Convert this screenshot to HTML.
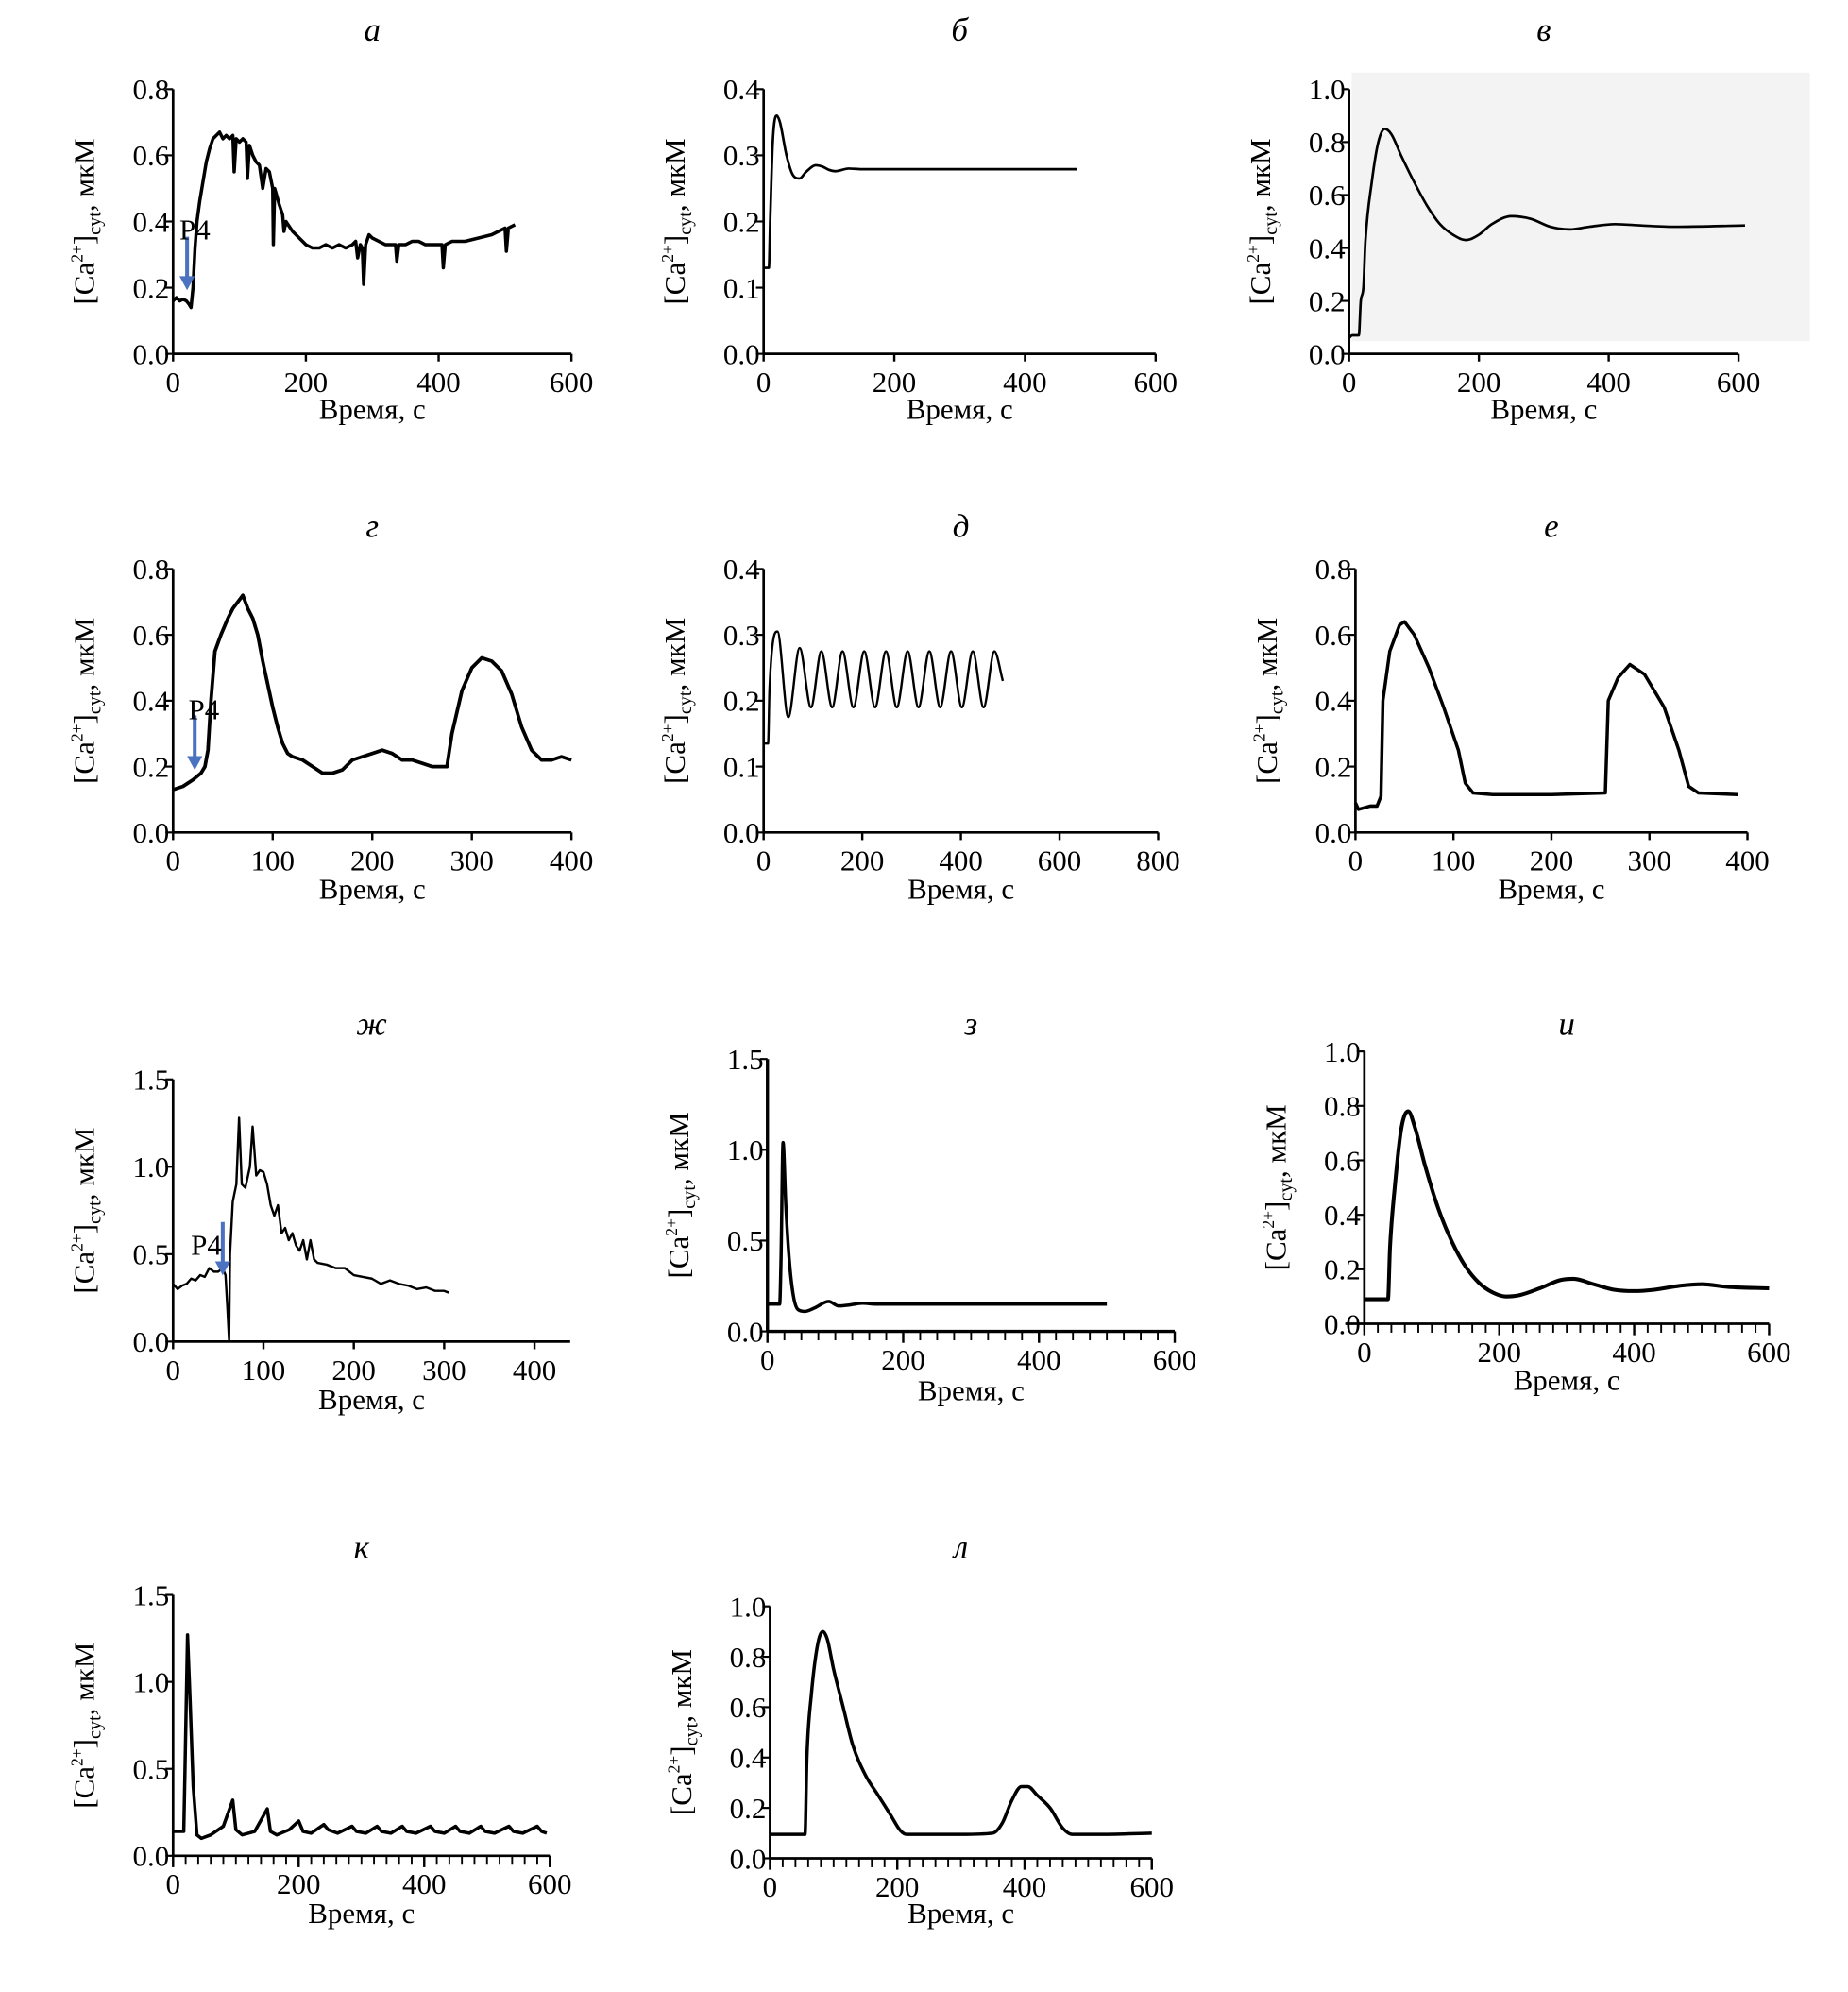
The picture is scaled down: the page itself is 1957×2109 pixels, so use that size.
<!DOCTYPE html>
<html><head><meta charset="utf-8"><style>
html,body{margin:0;padding:0;background:#fff;}
svg{display:block;}
text{font-family:"Liberation Serif",serif;fill:#000;}
</style></head><body>
<svg id="fig" width="1957" height="2109" viewBox="0 0 1452 1565" preserveAspectRatio="none" xmlns="http://www.w3.org/2000/svg">
<rect x="1062" y="57" width="360" height="211" fill="#f3f3f3"/>
</svg>
<script>
// ---- data (time s, [Ca2+] µM) ----
const aT=[0,5,10,15,20,24,27,30,33,36,40,45,50,55,60,65,70,75,80,85,90,92,95,100,105,110,112,115,120,125,130,135,140,145,150,151,153,160,165,167,170,180,190,200,210,220,230,240,250,260,270,275,278,282,285,287,290,295,300,310,320,330,335,337,340,350,360,370,380,390,400,405,407,410,420,440,460,480,490,500,502,505,515];
const aV=[0.16,0.17,0.16,0.165,0.16,0.15,0.14,0.2,0.32,0.4,0.46,0.52,0.58,0.62,0.65,0.66,0.67,0.65,0.66,0.65,0.66,0.55,0.65,0.64,0.65,0.64,0.53,0.63,0.6,0.58,0.57,0.5,0.56,0.55,0.5,0.33,0.5,0.45,0.42,0.37,0.4,0.37,0.35,0.33,0.32,0.32,0.33,0.32,0.33,0.32,0.33,0.34,0.29,0.33,0.32,0.21,0.33,0.36,0.35,0.34,0.33,0.33,0.33,0.28,0.33,0.33,0.34,0.34,0.33,0.33,0.33,0.33,0.26,0.33,0.34,0.34,0.35,0.36,0.37,0.38,0.31,0.38,0.39];
const bT=[0,8,10,14,20,25,35,45,55,65,80,90,100,110,130,150,480];
const bV=[0.13,0.13,0.2,0.32,0.36,0.35,0.3,0.27,0.265,0.275,0.285,0.283,0.278,0.276,0.28,0.279,0.279];
const vT=[0,5,15,18,22,25,35,45,55,65,80,100,120,140,160,180,200,220,250,280,310,340,370,410,450,500,610];
const vV=[0.06,0.07,0.07,0.2,0.25,0.42,0.65,0.8,0.85,0.83,0.75,0.65,0.56,0.49,0.45,0.43,0.45,0.49,0.52,0.51,0.48,0.47,0.48,0.49,0.485,0.48,0.485];
const gT=[0,10,20,28,32,35,38,42,48,55,60,65,70,75,80,85,90,95,100,105,110,115,120,130,140,150,160,170,180,190,200,210,220,230,240,250,260,270,275,280,290,300,310,320,330,340,350,360,370,380,390,400];
const gV=[0.13,0.14,0.16,0.18,0.2,0.25,0.4,0.55,0.6,0.65,0.68,0.7,0.72,0.68,0.65,0.6,0.52,0.45,0.38,0.32,0.27,0.24,0.23,0.22,0.2,0.18,0.18,0.19,0.22,0.23,0.24,0.25,0.24,0.22,0.22,0.21,0.2,0.2,0.2,0.3,0.43,0.5,0.53,0.52,0.49,0.42,0.32,0.25,0.22,0.22,0.23,0.22];
const dT=[0,9,12,28,50,73,96,117,139,160,182,204,226,248,270,292,314,336,358,380,402,424,446,468,485];
const dV=[0.135,0.135,0.22,0.305,0.175,0.28,0.19,0.275,0.19,0.275,0.19,0.275,0.19,0.275,0.19,0.275,0.19,0.275,0.19,0.275,0.19,0.275,0.19,0.275,0.23];
const eT=[0,3,15,22,26,28,35,45,50,60,75,90,105,112,120,140,200,255,258,268,280,295,315,330,340,350,390];
const eV=[0.09,0.07,0.08,0.08,0.11,0.4,0.55,0.63,0.64,0.6,0.5,0.38,0.25,0.15,0.12,0.115,0.115,0.12,0.4,0.47,0.51,0.48,0.38,0.25,0.14,0.12,0.115];
const zhT=[0,5,10,15,20,25,30,35,40,45,50,55,58,60,62,63,66,70,73,76,80,85,88,92,96,100,104,108,112,116,120,124,128,132,136,140,144,148,152,156,160,170,180,190,200,210,220,230,240,250,260,270,280,290,300,305];
const zhV=[0.33,0.3,0.32,0.33,0.36,0.35,0.38,0.37,0.42,0.4,0.4,0.42,0.38,0.2,0,0.5,0.8,0.9,1.28,0.9,0.88,1.0,1.23,0.95,0.98,0.97,0.9,0.78,0.72,0.78,0.62,0.65,0.58,0.62,0.55,0.52,0.58,0.47,0.58,0.47,0.45,0.44,0.42,0.42,0.38,0.37,0.36,0.33,0.35,0.33,0.32,0.3,0.31,0.29,0.29,0.28];
const zT=[0,18,20,23,27,32,38,45,55,70,90,105,120,140,160,500];
const zV=[0.15,0.15,0.4,1.04,0.7,0.4,0.2,0.12,0.11,0.13,0.165,0.14,0.145,0.155,0.15,0.15];
const iT=[0,35,38,45,55,65,75,90,110,130,150,170,190,210,230,260,290,310,340,370,400,430,470,500,540,600];
const iV=[0.09,0.09,0.28,0.5,0.72,0.78,0.72,0.58,0.42,0.3,0.21,0.15,0.115,0.1,0.105,0.13,0.16,0.165,0.145,0.125,0.12,0.125,0.14,0.145,0.135,0.13];
const kT=[0,17,19,23,27,32,38,45,60,80,95,100,110,130,150,155,165,185,200,207,220,240,247,262,285,292,307,325,332,347,365,372,387,410,417,432,450,457,472,490,497,512,535,542,557,580,587,595];
const kV=[0.14,0.14,0.5,1.27,0.9,0.4,0.12,0.1,0.12,0.17,0.32,0.15,0.12,0.14,0.27,0.14,0.12,0.15,0.2,0.14,0.13,0.18,0.15,0.13,0.17,0.14,0.13,0.17,0.14,0.13,0.17,0.14,0.13,0.17,0.14,0.13,0.17,0.14,0.13,0.17,0.14,0.13,0.17,0.14,0.13,0.17,0.14,0.13];
const lT=[0,55,58,65,75,83,90,100,115,130,150,170,190,205,215,300,350,365,380,395,405,420,440,460,475,520,600];
const lV=[0.095,0.095,0.4,0.65,0.85,0.9,0.87,0.75,0.6,0.45,0.33,0.25,0.17,0.11,0.095,0.095,0.1,0.14,0.23,0.285,0.285,0.25,0.2,0.12,0.095,0.095,0.1];
// tick labels
const ticksA=[0,200,400,600], yA=["0.0","0.2","0.4","0.6","0.8"];
const yB=["0.0","0.1","0.2","0.3","0.4"], yV=["0.0","0.2","0.4","0.6","0.8","1.0"];
const ticks4=[0,100,200,300,400], ticksD=[0,200,400,600,800], yZh=["0.0","0.5","1.0","1.5"];

const NS="http://www.w3.org/2000/svg", svg=document.getElementById('fig');
function mk(tag,at,parent){const e=document.createElementNS(NS,tag);for(const k in at)e.setAttribute(k,at[k]);(parent||svg).appendChild(e);return e;}

function monotone(px,py){
  const n=px.length;if(n<3){return 'M'+px.map((x,i)=>x+','+py[i]).join('L');}
  const d=[],m=[];for(let i=0;i<n-1;i++)d.push((py[i+1]-py[i])/(px[i+1]-px[i]||1e-6));
  m[0]=d[0];m[n-1]=d[n-2];
  for(let i=1;i<n-1;i++){m[i]=(d[i-1]*d[i]<=0)?0:(d[i-1]+d[i])/2;}
  for(let i=0;i<n-1;i++){if(d[i]===0){m[i]=0;m[i+1]=0;continue;}const a=m[i]/d[i],b=m[i+1]/d[i],s=a*a+b*b;if(s>9){const t=3/Math.sqrt(s);m[i]=t*a*d[i];m[i+1]=t*b*d[i];}}
  let p='M'+px[0].toFixed(2)+','+py[0].toFixed(2);
  for(let i=0;i<n-1;i++){const h=(px[i+1]-px[i])/3;p+='C'+(px[i]+h).toFixed(2)+','+(py[i]+m[i]*h).toFixed(2)+' '+(px[i+1]-h).toFixed(2)+','+(py[i+1]-m[i+1]*h).toFixed(2)+' '+px[i+1].toFixed(2)+','+py[i+1].toFixed(2);}
  return p;
}

const panels=[
 {id:'a',title:'а',x0:136,x1:449,xmax:600,axEnd:449,yTop:70,yBot:278,ymax:0.8,xt:ticksA,yt:yA,T:aT,V:aV,sw:2.6,smooth:false,tY:25,lY:322,arrow:[147,186,228,141,180]},
 {id:'b',title:'б',x0:600,x1:908,xmax:600,axEnd:908,yTop:70,yBot:278,ymax:0.4,xt:ticksA,yt:yB,T:bT,V:bV,sw:2,smooth:true,tY:25,lY:322},
 {id:'v',title:'в',x0:1060,x1:1366,xmax:600,axEnd:1366,yTop:70,yBot:278,ymax:1.0,xt:ticksA,yt:yV,T:vT,V:vV,sw:2,smooth:true,tY:25,lY:322},
 {id:'g',title:'г',x0:136,x1:449,xmax:400,axEnd:449,yTop:447,yBot:654,ymax:0.8,xt:ticks4,yt:yA,T:gT,V:gV,sw:2.8,smooth:false,tY:415,lY:699,arrow:[153,562,605,148,557]},
 {id:'d',title:'д',x0:600,x1:910,xmax:800,axEnd:910,yTop:447,yBot:654,ymax:0.4,xt:ticksD,yt:yB,T:dT,V:dV,sw:1.8,smooth:true,tY:415,lY:699},
 {id:'e',title:'е',x0:1065,x1:1373,xmax:400,axEnd:1373,yTop:447,yBot:654,ymax:0.8,xt:ticks4,yt:yA,T:eT,V:eV,sw:2.6,smooth:false,tY:415,lY:699},
 {id:'zh',title:'ж',x0:136,x1:420,xmax:400,axEnd:448,yTop:848,yBot:1054,ymax:1.5,xt:ticks4,yt:yZh,T:zhT,V:zhV,sw:1.8,smooth:false,tY:806,lY:1100,arrow:[175,960,1002,150,978]},
 {id:'z',title:'з',x0:603,x1:923,xmax:600,axEnd:923,yTop:832,yBot:1046,ymax:1.5,xt:ticksA,yt:yZh,T:zT,V:zV,sw:2.6,smooth:true,tY:806,lY:1093,minor:25,thickX:true},
 {id:'i',title:'и',x0:1072,x1:1390,xmax:600,axEnd:1390,yTop:826,yBot:1040,ymax:1.0,xt:ticksA,yt:yV,T:iT,V:iV,sw:3,smooth:true,tY:806,lY:1085,minor:20,axStart:-15},
 {id:'k',title:'к',x0:136,x1:432,xmax:600,axEnd:432,yTop:1253,yBot:1458,ymax:1.5,xt:ticksA,yt:yZh,T:kT,V:kV,sw:2.6,smooth:false,tY:1217,lY:1504,minor:20},
 {id:'l',title:'л',x0:605,x1:905,xmax:600,axEnd:905,yTop:1262,yBot:1460,ymax:1.0,xt:ticksA,yt:yV,T:lT,V:lV,sw:2.6,smooth:true,tY:1217,lY:1504,minor:20}
];

panels.forEach(P=>{
  const g=mk('g',{});
  
  
  const sx=v=>P.x0+(P.x1-P.x0)*v/P.xmax;
  const sy=v=>P.yBot-(P.yBot-P.yTop)*v/P.ymax;
  const cx=(P.x0+P.axEnd)/2;
  const t=mk('text',{x:cx,y:P.tY+7,'text-anchor':'middle','font-size':26,'font-style':'italic'},g);t.textContent=P.title;
  
  const ax=mk('path',{d:`M${P.x0},${P.yTop}V${P.yBot}M${P.x0+(P.axStart||0)},${P.yBot}H${P.axEnd}`,stroke:'#000','stroke-width':P.thickX?2.5:2,fill:'none'},g);
  
  P.yt.forEach((lab,i)=>{const v=parseFloat(lab),y=sy(v);
    mk('line',{x1:P.x0-6,x2:P.x0,y1:y,y2:y,stroke:'#000','stroke-width':1.6},g);
    const tx=mk('text',{x:P.x0-3,y:y+8,'text-anchor':'end','font-size':23},g);tx.textContent=lab;
    });
  if(P.minor){for(let v=0;v<=P.xmax;v+=P.minor){const x=sx(v);mk('line',{x1:x,x2:x,y1:P.yBot,y2:P.yBot+7,stroke:'#000','stroke-width':1.4},g);}}
  P.xt.forEach(v=>{const x=sx(v);
    mk('line',{x1:x,x2:x,y1:P.yBot,y2:P.yBot+(P.minor?9:6),stroke:'#000','stroke-width':1.8},g);
    const tx=mk('text',{x:x,y:P.yBot+30,'text-anchor':'middle','font-size':23},g);tx.textContent=v;
    });
  const xl=mk('text',{x:cx,y:P.lY+7,'text-anchor':'middle','font-size':23},g);xl.textContent='Время, с';
  
  const ly=(P.yTop+P.yBot)/2, lx=P.x0-62;
  const yl=mk('text',{transform:`translate(${lx},${ly}) rotate(-90)`,'text-anchor':'middle','font-size':23},g);
  
  yl.innerHTML='[Ca<tspan font-size="13" dy="-9">2+</tspan><tspan dy="9">]</tspan><tspan font-size="15" dy="5">cyt</tspan><tspan dy="-5">, мкМ</tspan>';
  const px=P.T.map(sx), py=P.V.map(sy);
  const d=P.smooth?monotone(px,py):'M'+px.map((x,i)=>x.toFixed(2)+','+py[i].toFixed(2)).join('L');
  const ln=mk('path',{d:d,fill:'none',stroke:'#000','stroke-width':P.sw,'stroke-linejoin':'round'},g);
  
  if(P.arrow){const [ax1,ay1,ay2,lxp,lyp]=P.arrow;
    const ar=mk('g',{},g);
    mk('line',{x1:ax1,x2:ax1,y1:ay1,y2:ay2-8,stroke:'#4a72c0','stroke-width':3},ar);
    mk('path',{d:`M${ax1-6},${ay2-11}L${ax1+6},${ay2-11}L${ax1},${ay2}Z`,fill:'#4a72c0'},ar);
    const pt=mk('text',{x:lxp,y:lyp+8,'font-size':23},g);pt.textContent='P4';
    }
});
</script>
</body></html>
